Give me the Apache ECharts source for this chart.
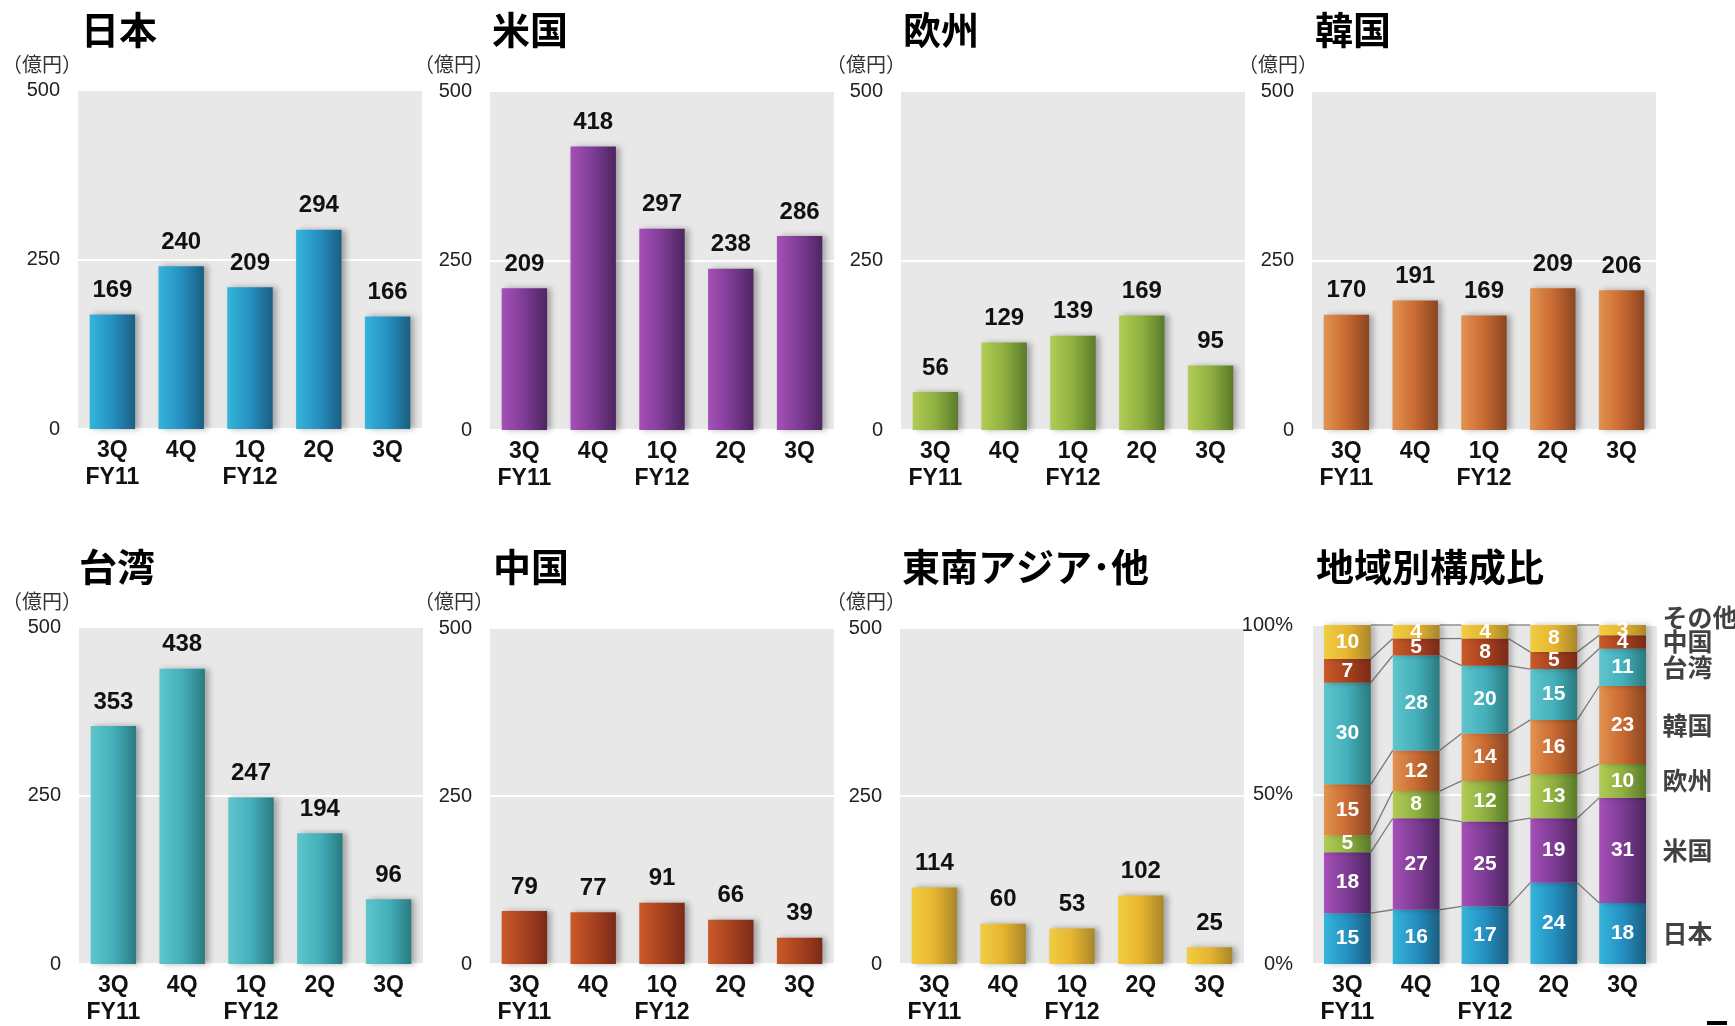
<!DOCTYPE html>
<html><head><meta charset="utf-8">
<script src="https://cdn.jsdelivr.net/npm/echarts@6/dist/echarts.min.js"></script>
<style>html,body{margin:0;padding:0;background:#fff}#c{width:1735px;height:1026px}</style>
</head><body><div id="c"></div><script>
// ---- data ----
const categories = ['3Q\nFY11', '4Q', '1Q\nFY12', '2Q', '3Q'];
const japan  = [169, 240, 209, 294, 166];
const usa    = [209, 418, 297, 238, 286];
const europe = [56, 129, 139, 169, 95];
const korea  = [170, 191, 169, 209, 206];
const taiwan = [353, 438, 247, 194, 96];
const china  = [79, 77, 91, 66, 39];
const seAsia = [114, 60, 53, 102, 25];
const shareJapan  = [15, 16, 17, 24, 18];
const shareUsa    = [18, 27, 25, 19, 31];
const shareEurope = [5, 8, 12, 13, 10];
const shareKorea  = [15, 12, 14, 16, 23];
const shareTaiwan = [30, 28, 20, 15, 11];
const shareChina  = [7, 5, 8, 5, 4];
const shareOther  = [10, 4, 4, 8, 3];
const amountMax = 500, amountStep = 250;
const shareMax = 100, shareStep = 50;
const unitLabel = '（億円）';

// ---- styles ----
const FONT = "'Liberation Sans', 'Noto Sans CJK JP', sans-serif";
const CJK = "'Noto Sans CJK JP', 'Liberation Sans', sans-serif";
function grad(c) {
  return new echarts.graphic.LinearGradient(0, 0, 1, 0, [
    { offset: 0, color: c[0] }, { offset: 0.5, color: c[1] }, { offset: 1, color: c[2] }]);
}
const C = {
  blue:   ['#35b5da', '#2590c2', '#1b5e80'],
  purple: ['#a650b8', '#7d3c94', '#4e2561'],
  green:  ['#b2cc55', '#8fb040', '#5a7a2a'],
  orange: ['#e29350', '#c96a32', '#8a4522'],
  teal:   ['#5ec5cc', '#44b0bb', '#2a7a80'],
  brown:  ['#c95a28', '#a8421f', '#7a2a18'],
  yellow: ['#f0cd42', '#e6b52f', '#a8862a']
};

const panels = [
  { title: '日本', data: japan, col: C.blue, left: 78, top: 90, tx: 81, ux: 2, row: 0 },
  { title: '米国', data: usa, col: C.purple, left: 490, top: 91, tx: 492, ux: 414, row: 0 },
  { title: '欧州', data: europe, col: C.green, left: 901, top: 91, tx: 903, ux: 826, row: 0 },
  { title: '韓国', data: korea, col: C.orange, left: 1312, top: 91, tx: 1315, ux: 1238, row: 0 },
  { title: '台湾', data: taiwan, col: C.teal, left: 79, top: 627, tx: 79, ux: 2, row: 1 },
  { title: '中国', data: china, col: C.brown, left: 490, top: 628, tx: 493, ux: 414, row: 1 },
  { title: '東南アジア･他', data: seAsia, col: C.yellow, left: 900, top: 628, tx: 902, ux: 826, row: 1 }
];

const grids = [], xAxes = [], yAxes = [], series = [], titles = [];
const PW = 344, PH = 339;

function xAxisFor(i) {
  return {
    gridIndex: i, type: 'category', data: categories,
    axisLine: { show: false }, axisTick: { show: false },
    axisLabel: { interval: 0, fontSize: 23, fontWeight: 'bold', color: '#111', lineHeight: 27, margin: 8, fontFamily: FONT }
  };
}

panels.forEach((p, i) => {
  grids.push({ left: p.left, top: p.top, width: PW, height: PH, show: true, backgroundColor: '#e8e8e8', borderWidth: 0 });
  xAxes.push(xAxisFor(i));
  yAxes.push({
    gridIndex: i, type: 'value', min: 0, max: amountMax, interval: amountStep,
    axisLine: { show: false }, axisTick: { show: false },
    axisLabel: { fontSize: 20, color: '#222', margin: 18, fontFamily: FONT },
    splitLine: { lineStyle: { color: '#ffffff', width: 2 } }
  });
  series.push({
    type: 'bar', xAxisIndex: i, yAxisIndex: i, data: p.data, barWidth: '66%', z: 3,
    itemStyle: { color: grad(p.col), shadowColor: 'rgba(0,0,0,0.3)', shadowBlur: 6, shadowOffsetX: 4 },
    label: { show: true, position: 'top', distance: 12, fontSize: 24, fontWeight: 'bold', color: '#111', fontFamily: FONT }
  });
  const ty = p.row === 0 ? 11 : 548;
  const uy = p.row === 0 ? 54 : 591;
  titles.push({ text: p.title, left: p.tx, top: ty, padding: 0,
    textStyle: { fontSize: 38, fontWeight: 'bold', color: '#000', fontFamily: CJK } });
  titles.push({ text: unitLabel, left: p.ux, top: uy, padding: 0,
    textStyle: { fontSize: 20, fontWeight: 'normal', color: '#333', fontFamily: CJK } });
});

// ---- share (stacked) chart ----
const SI = 7;
titles.push({ text: '地域別構成比', left: 1316, top: 548, padding: 0,
  textStyle: { fontSize: 38, fontWeight: 'bold', color: '#000', fontFamily: CJK } });
grids.push({ left: 1313, top: 625, width: PW, height: 343, show: true, backgroundColor: '#e8e8e8', borderWidth: 0 });
xAxes.push(xAxisFor(SI));
yAxes.push({
  gridIndex: SI, type: 'value', min: 0, max: shareMax, interval: shareStep,
  axisLine: { show: false }, axisTick: { show: false },
  axisLabel: { fontSize: 20, color: '#222', margin: 20, formatter: '{value}%', fontFamily: FONT },
  splitLine: { lineStyle: { color: '#ffffff', width: 2 } }
});
const shareSeries = [
  { name: '日本', data: shareJapan, col: C.blue },
  { name: '米国', data: shareUsa, col: C.purple },
  { name: '欧州', data: shareEurope, col: C.green },
  { name: '韓国', data: shareKorea, col: C.orange },
  { name: '台湾', data: shareTaiwan, col: C.teal },
  { name: '中国', data: shareChina, col: C.brown },
  { name: 'その他', data: shareOther, col: C.yellow }
];
const SHARE_BW = 0.68;
shareSeries.forEach(s => {
  series.push({
    type: 'bar', name: s.name, stack: 'share', xAxisIndex: SI, yAxisIndex: SI, data: s.data,
    barWidth: (SHARE_BW * 100) + '%', z: 3,
    itemStyle: { color: grad(s.col), shadowColor: 'rgba(0,0,0,0.25)', shadowBlur: 6, shadowOffsetX: 4 },
    label: { show: true, position: 'inside', fontSize: 21, fontWeight: 'bold', color: '#fff', fontFamily: FONT }
  });
});
// cumulative boundaries
const cum = [];
let run = categories.map(() => 0);
shareSeries.forEach(s => { run = run.map((v, j) => v + s.data[j]); cum.push(run.slice()); });
const connData = [];
cum.forEach(b => { for (let j = 0; j < categories.length - 1; j++) connData.push([j, b[j], b[j + 1]]); });
series.push({
  type: 'custom', xAxisIndex: SI, yAxisIndex: SI, z: 2, data: connData,
  encode: { x: 0, y: [1, 2] }, silent: true,
  renderItem: function (params, api) {
    const j = api.value(0);
    const half = api.size([1, 0])[0] * SHARE_BW / 2;
    const p1 = api.coord([j, api.value(1)]);
    const p2 = api.coord([j + 1, api.value(2)]);
    return { type: 'line', shape: { x1: p1[0] + half, y1: p1[1], x2: p2[0] - half, y2: p2[1] },
      style: { stroke: '#7a7a7a', lineWidth: 1.3 } };
  }
});
// region names at the right of the last bar
const last = categories.length - 1;
const nameData = shareSeries.map((s, k) => {
  const base = k === 0 ? 0 : cum[k - 1][last];
  const item = { name: s.name, value: [last, base + s.data[last] / 2] };
  if (k === shareSeries.length - 1) item.label = { offset: [0, -13] };
  return item;
});
series.push({
  type: 'scatter', xAxisIndex: SI, yAxisIndex: SI, symbolSize: 0, z: 5, data: nameData, silent: true,
  label: { show: true, position: 'right', distance: 40, formatter: '{b}', fontSize: 25, fontWeight: 'bold', color: '#111', fontFamily: CJK }
});

const chart = echarts.init(document.getElementById('c'));
chart.setOption({
  backgroundColor: '#fff', animation: false,
  title: titles, grid: grids, xAxis: xAxes, yAxis: yAxes, series: series,
  graphic: [{ type: 'rect', left: 1707, top: 1021, shape: { width: 20, height: 4 }, style: { fill: '#000' } }]
});
</script></body></html>
